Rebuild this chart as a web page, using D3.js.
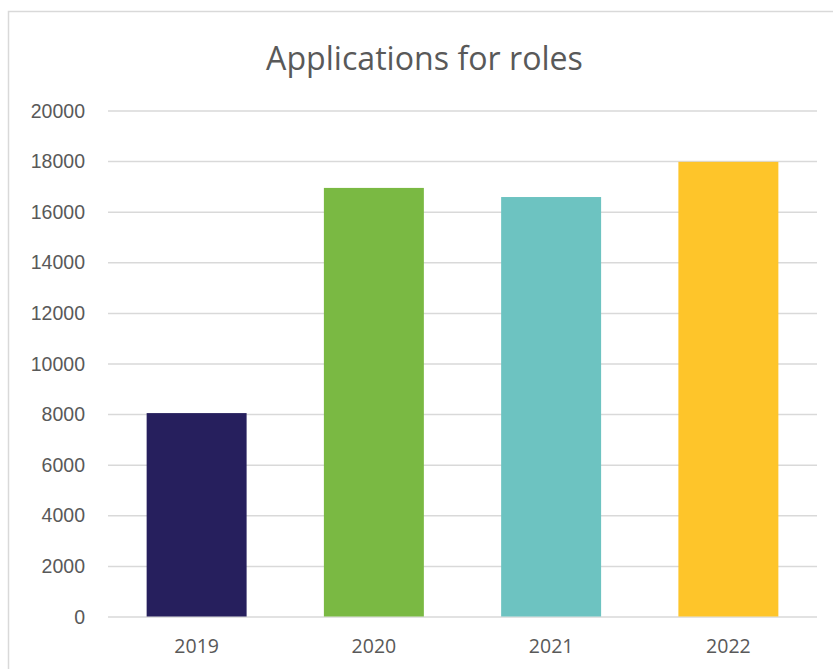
<!DOCTYPE html>
<html><head><meta charset="utf-8">
<script src="https://cdn.jsdelivr.net/npm/d3@7/dist/d3.min.js"></script>
<style>body{margin:0;background:#fff;} svg{display:block;font-family:"Open Sans",sans-serif;}</style>
</head><body>
<svg id="c" width="833" height="669"></svg>
<script>
const categories = ["2019","2020","2021","2022"];
const values = [8040, 16940, 16580, 17970];
const colors = ["#261F5D","#7AB943","#6DC3C1","#FEC52A"];
const yTicks = [0,2000,4000,6000,8000,10000,12000,14000,16000,18000,20000];
const title = "Applications for roles";

const svg = d3.select("#c");
const m = {left:108, right:16, top:110.5, bottom:52.5};
const W = 833, H = 669;

// frame
svg.append("rect").attr("x",8.5).attr("y",11.5).attr("width",W).attr("height",H)
  .attr("fill","none").attr("stroke","#d9d9d9").attr("stroke-width",1.5);

const x = d3.scaleBand().domain(categories).range([m.left, W-m.right]).paddingInner(0.436).paddingOuter(0.218);
const y = d3.scaleLinear().domain([0,20000]).range([H-m.bottom, m.top]);

// gridlines
const yAxis = d3.axisLeft(y).tickValues(yTicks).tickSize(-(W-m.right-m.left)).tickPadding(23).tickFormat(d3.format("d"));
const gy = svg.append("g").attr("transform",`translate(${m.left},0)`).call(yAxis);
gy.select(".domain").remove();
gy.selectAll("line").attr("stroke","#d9d9d9").attr("stroke-width",1.5);
gy.selectAll("text").attr("fill","#595959").style("font-size","19.5px").attr("dy","0.34em");

// bars
svg.append("g").selectAll("rect").data(categories).join("rect")
  .attr("x",d=>x(d)).attr("width",x.bandwidth())
  .attr("y",(d,i)=>y(values[i])).attr("height",(d,i)=>y(0)-y(values[i]))
  .attr("fill",(d,i)=>colors[i]);

// x axis labels
const xAxis = d3.axisBottom(x).tickSize(0).tickPadding(23);
const gx = svg.append("g").attr("transform",`translate(0,${y(0)})`).call(xAxis);
gx.select(".domain").remove();
gx.selectAll("text").attr("fill","#595959").style("font-size","19.5px").style("font-family","'Open Sans',sans-serif");

// title
const t = svg.append("text").attr("x",424.5).attr("y",70).attr("text-anchor","middle")
  .attr("fill","#595959").style("font-size","30px").text(title);
const w = t.node().getComputedTextLength();
t.style("font-size", (30*317/w).toFixed(2)+"px");
</script>
</body></html>
